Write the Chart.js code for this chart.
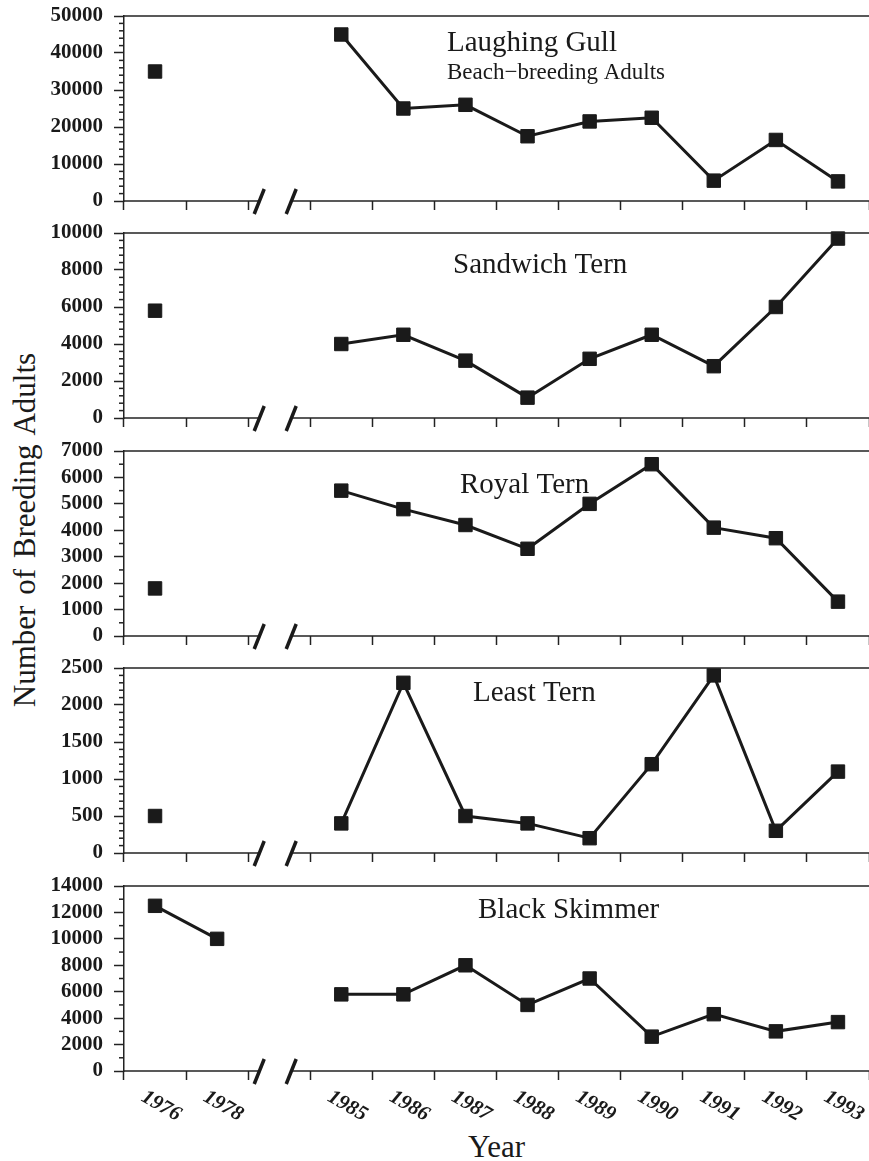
<!DOCTYPE html>
<html>
<head>
<meta charset="utf-8">
<script src="https://cdn.jsdelivr.net/npm/chart.js@4.4.1/dist/chart.umd.min.js"></script>
<style>
	body { margin: 0; background: #fff; }
	#wrap { position: relative; width: 869px; height: 1161px; overflow: hidden; font-family: 'Liberation Serif', 'Times New Roman', serif; color: #1a1a1a; }
	.panel { position: absolute; left: 0; width: 869px; }
	#ytitle { position: absolute; left: -225px; top: 513px; width: 500px; line-height: 34px; text-align: center; font-size: 31px; word-spacing: 3px; transform: rotate(-90deg); }
	#xtitle { position: absolute; left: 124px; width: 745px; top: 1130px; line-height: 34px; text-align: center; font-size: 31px; }
</style>
</head>
<body>
<div id="wrap">
	<div id="ytitle">Number of Breeding Adults</div>
	<div id="xtitle">Year</div>
</div>
<script>
// categories (third slot is the axis break)
const years = ['1976', '1978', '', '1985', '1986', '1987', '1988', '1989', '1990', '1991', '1992', '1993'];
const breakIndex = 2;

const laughingGull = [35000, null, null, 45000, 25000, 26000, 17500, 21500, 22500, 5500, 16500, 5300];
const sandwichTern = [5800, null, null, 4000, 4500, 3100, 1100, 3200, 4500, 2800, 6000, 9700];
const royalTern = [1800, null, null, 5500, 4800, 4200, 3300, 5000, 6500, 4100, 3700, 1300];
const leastTern = [500, null, null, 400, 2300, 500, 400, 200, 1200, 2400, 300, 1100];
const blackSkimmer = [12500, 10000, null, 5800, 5800, 8000, 5000, 7000, 2600, 4300, 3000, 3700];

const panelNames = ['Laughing Gull', 'Sandwich Tern', 'Royal Tern', 'Least Tern', 'Black Skimmer'];
const panelData = [laughingGull, sandwichTern, royalTern, leastTern, blackSkimmer];
const yMax = [50000, 10000, 7000, 2500, 14000];
const yMajor = [10000, 2000, 1000, 500, 2000];
const yMinor = [2000, 400, 500, 100, 1000];

// layout of each panel (plot top in page px, title placement)
const plotTops = [16, 233, 451, 668, 886];
const plotHeight = 185;
const padTop = 16;
const titlePos = [
	{ x: 447, dy: 35, sub: 'Beach\u2212breeding Adults', subDy: 63 },
	{ x: 453, dy: 40 },
	{ x: 460, dy: 42 },
	{ x: 473, dy: 33 },
	{ x: 478, dy: 32 }
];

const ink = '#1a1a1a';
const axisColor = '#222';

function strokeLine(ctx, x1, y1, x2, y2) {
	ctx.beginPath();
	ctx.moveTo(x1, y1);
	ctx.lineTo(x2, y2);
	ctx.stroke();
}

const panelDecor = {
	id: 'panelDecor',
	afterDraw(chart, args, opts) {
		const ctx = chart.ctx;
		const a = chart.chartArea;
		const x = chart.scales.x;
		const y = chart.scales.y;
		ctx.save();
		ctx.strokeStyle = axisColor;
		ctx.lineWidth = 1.5;
		// top frame line
		strokeLine(ctx, a.left, a.top, a.right, a.top);
		// minor ticks on the y axis
		for (let v = 0; v <= y.max; v += opts.minor) {
			if (v % opts.major === 0) continue;
			const py = y.getPixelForValue(v);
			strokeLine(ctx, a.left - 5, py, a.left, py);
		}
		// x axis with a break
		const gx = x.getPixelForValue(breakIndex);
		const s1 = gx - 20;
		const s2 = gx + 12;
		strokeLine(ctx, a.left, a.bottom, s1, a.bottom);
		strokeLine(ctx, s2, a.bottom, a.right, a.bottom);
		ctx.strokeStyle = ink;
		ctx.lineWidth = 3.5;
		strokeLine(ctx, s1 - 5, a.bottom + 13, s1 + 5, a.bottom - 12);
		strokeLine(ctx, s2 - 5, a.bottom + 13, s2 + 5, a.bottom - 12);
		// panel title
		ctx.fillStyle = ink;
		ctx.textAlign = 'left';
		ctx.textBaseline = 'alphabetic';
		ctx.font = '29px "Liberation Serif"';
		ctx.fillText(opts.title, opts.tx, a.top + opts.dy);
		if (opts.sub) {
			ctx.font = '23px "Liberation Serif"';
			ctx.fillText(opts.sub, opts.tx, a.top + opts.subDy);
		}
		// slanted year labels under the last panel
		if (opts.yearLabels) {
			ctx.font = 'italic bold 21px "Liberation Serif"';
			ctx.textAlign = 'center';
			ctx.textBaseline = 'middle';
			years.forEach((lab, i) => {
				if (!lab) return;
				const px = x.getPixelForValue(i) + 6;
				ctx.save();
				ctx.translate(px, a.bottom + 35);
				ctx.rotate(Math.PI / 6);
				ctx.fillText(lab, 0, 0);
				ctx.restore();
			});
		}
		ctx.restore();
	}
};

const wrap = document.getElementById('wrap');

panelData.forEach((values, i) => {
	const last = i === panelData.length - 1;
	const padBottom = last ? 60 : 18;
	const h = padTop + plotHeight + padBottom;
	const box = document.createElement('div');
	box.className = 'panel';
	box.style.top = (plotTops[i] - padTop) + 'px';
	box.style.height = h + 'px';
	const canvas = document.createElement('canvas');
	canvas.width = 869;
	canvas.height = h;
	box.appendChild(canvas);
	wrap.appendChild(box);

	new Chart(canvas.getContext('2d'), {
		type: 'line',
		data: {
			labels: years,
			datasets: [{
				data: values,
				borderColor: ink,
				borderWidth: 3,
				backgroundColor: ink,
				pointStyle: 'rect',
				pointRadius: 9.5,
				pointBorderWidth: 1,
				pointBackgroundColor: ink,
				pointBorderColor: ink,
				spanGaps: false,
				clip: false,
				tension: 0
			}]
		},
		options: {
			responsive: false,
			animation: false,
			devicePixelRatio: 1,
			layout: { autoPadding: false, padding: { top: padTop, left: 0, right: 0, bottom: 0 } },
			plugins: {
				legend: { display: false },
				tooltip: { enabled: false },
				panelDecor: {
					title: panelNames[i],
					tx: titlePos[i].x,
					dy: titlePos[i].dy,
					sub: titlePos[i].sub,
					subDy: titlePos[i].subDy,
					major: yMajor[i],
					minor: yMinor[i],
					yearLabels: last
				}
			},
			scales: {
				x: {
					offset: true,
					ticks: { display: false },
					grid: { offset: true, drawOnChartArea: false, tickLength: 9, tickColor: axisColor, tickWidth: 1.5 },
					border: { display: false },
					afterFit: s => { s.height = padBottom; s.paddingLeft = 0; s.paddingRight = 0; }
				},
				y: {
					min: 0,
					max: yMax[i],
					ticks: {
						stepSize: yMajor[i],
						autoSkip: false,
						padding: 11,
						color: ink,
						font: { family: 'Liberation Serif', size: 21, weight: 'bold' },
						callback: v => String(v)
					},
					grid: { drawOnChartArea: false, tickLength: 10, tickColor: axisColor, tickWidth: 1.5 },
					border: { color: axisColor, width: 1.5 },
					afterFit: s => { s.width = 124; s.paddingTop = 0; s.paddingBottom = 0; }
				}
			}
		},
		plugins: [panelDecor]
	});
});
</script>
</body>
</html>
